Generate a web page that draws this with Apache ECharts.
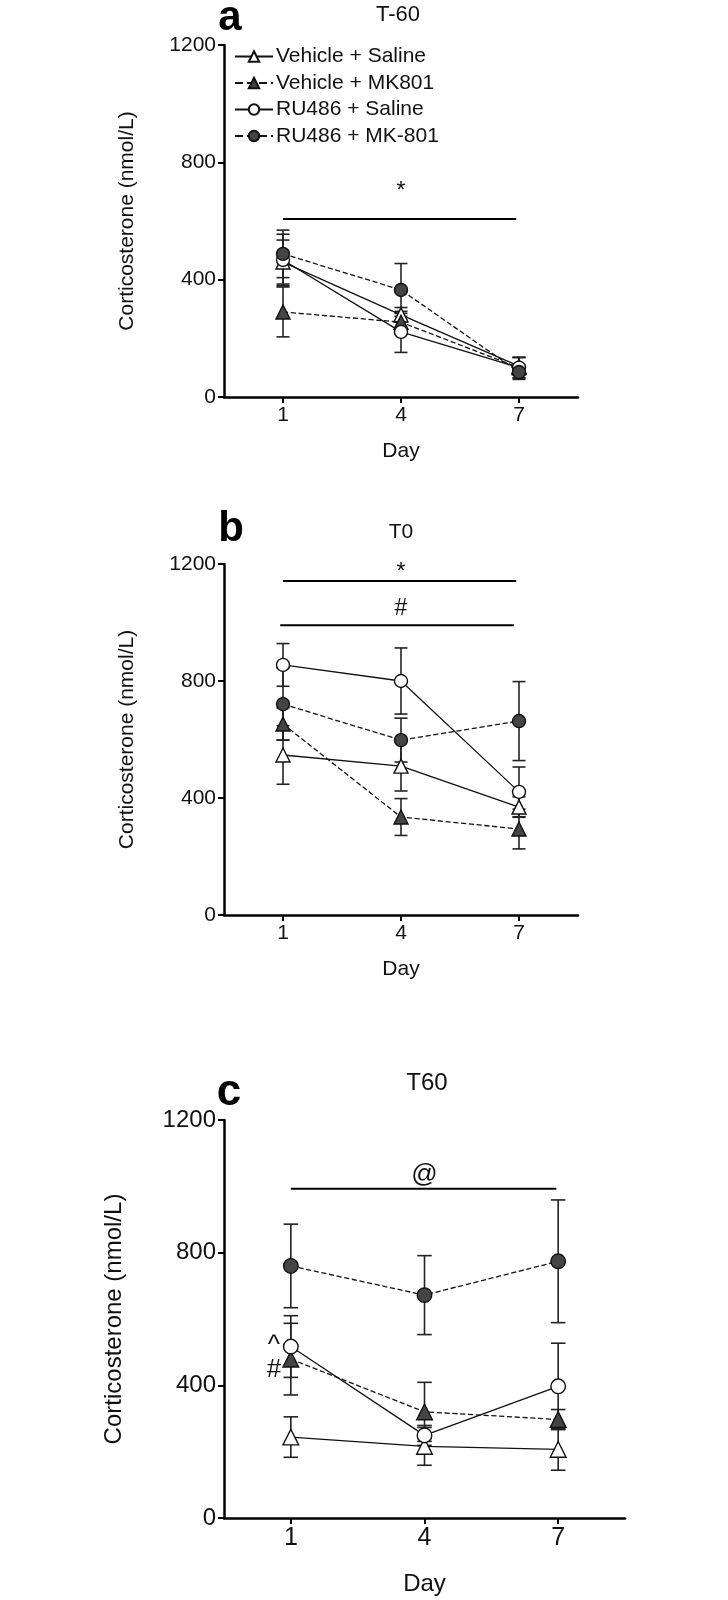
<!DOCTYPE html>
<html>
<head>
<meta charset="utf-8">
<script src="https://cdn.jsdelivr.net/npm/echarts@6/dist/echarts.min.js"></script>
<style>
  html, body { margin: 0; padding: 0; background: #fff; }
  #chart { width: 728px; height: 1600px; }
</style>
</head>
<body>
<div id="chart"></div>
<script>
// ---------- data ----------
const days = [1, 4, 7];
const tickDays = [1, 4, 7];
const yTicks = [0, 400, 800, 1200];
const groups = ['Vehicle + Saline', 'Vehicle + MK801', 'RU486 + Saline', 'RU486 + MK-801'];
const panelTitles = ['T-60', 'T0', 'T60'];
const panelLetters = ['a', 'b', 'c'];

// Panel a (T-60): mean and SEM per group, days 1,4,7
const meanA = [[460, 280, 105], [290, 255, 100], [467, 222, 100], [488, 365, 85]];
const semA  = [[75, 25, 30],   [85, 30, 35],   [88, 70, 35],   [81, 90, 25]];
// Panel b (T0)
const meanB = [[547, 509, 369], [653, 335, 294], [855, 800, 421], [721, 598, 663]];
const semB  = [[100, 85, 35],  [55, 63, 68],   [73, 113, 85],  [123, 75, 135]];
// Panel c (T60)
const meanC = [[244, 216, 207], [479, 320, 297], [517, 249, 397], [760, 672, 774]];
const semC  = [[61, 57, 63],   [108, 89, 30],  [93, 30, 130],  [126, 119, 185]];

// significance bars: [x1, x2, y]
const sigLinesA = [[1, 6.93, 607]];
const sigLinesB = [[1, 6.93, 1142], [0.93, 6.87, 991]];
const sigLinesC = [[1, 6.96, 993]];
// significance labels: [text, x, y]
const sigTextA = [['*', 4, 700]];
const sigTextB = [['*', 4, 1169], ['#', 4, 1046]];
const sigTextC = [['@', 4, 1035], ['^', 0.62, 519], ['#', 0.62, 448]];

// ---------- styles ----------
const FONT = "'Liberation Sans', Arial, sans-serif";
const DARK = '#444444';
const groupStyle = [
  { symbol: 'triangle', fill: '#ffffff', dash: 'solid' },
  { symbol: 'triangle', fill: DARK, dash: 'dashed' },
  { symbol: 'circle', fill: '#ffffff', dash: 'solid' },
  { symbol: 'circle', fill: DARK, dash: 'dashed' }
];

const panels = [
  { means: meanA, sems: semA, lines: sigLinesA, texts: sigTextA,
    grid: { left: 224, top: 45, width: 354, height: 352 }, fs: 21, ms: 1.0, nameGapY: 86, nameGapX: 44 },
  { means: meanB, sems: semB, lines: sigLinesB, texts: sigTextB,
    grid: { left: 224, top: 564, width: 354, height: 351 }, fs: 21, ms: 1.0, nameGapY: 86, nameGapX: 44 },
  { means: meanC, sems: semC, lines: sigLinesC, texts: sigTextC,
    grid: { left: 224, top: 1120, width: 401, height: 398 }, fs: 24, ms: 1.12, nameGapY: 98, nameGapX: 54 }
];

const grids = [], xAxes = [], yAxes = [], series = [];

panels.forEach((p, pi) => {
  grids.push(p.grid);
  xAxes.push({
    type: 'value', gridIndex: pi, min: -0.5, max: 8.5,
    name: 'Day',
    nameLocation: 'middle', nameGap: p.nameGapX,
    nameTextStyle: { fontFamily: FONT, fontSize: p.fs, color: '#111' },
    axisLine: { show: true, onZero: false, lineStyle: { color: '#000', width: 2.5 } },
    axisTick: { show: true, customValues: tickDays, length: 6, lineStyle: { color: '#000', width: 2 } },
    axisLabel: { show: true, customValues: tickDays, fontFamily: FONT, fontSize: p.fs + (pi === 2 ? 1 : 0), color: '#111', margin: 8 },
    splitLine: { show: false }
  });
  yAxes.push({
    type: 'value', gridIndex: pi, min: 0, max: 1200, interval: 400,
    name: 'Corticosterone (nmol/L)', nameLocation: 'middle', nameGap: p.nameGapY,
    nameTextStyle: { fontFamily: FONT, fontSize: p.fs, color: '#111' },
    axisLine: { show: true, onZero: false, lineStyle: { color: '#000', width: 2.5 } },
    axisTick: { show: true, length: 6, lineStyle: { color: '#000', width: 2 } },
    axisLabel: { fontFamily: FONT, fontSize: p.fs, color: '#111', margin: 8,
      formatter: function (v) { return String(v); } },
    splitLine: { show: false }
  });

  const capW = 13 * p.ms;
  // error bars
  p.means.forEach((m, gi) => {
    const data = days.map((d, i) => [d, m[i] - p.sems[gi][i], m[i] + p.sems[gi][i]]);
    series.push({
      type: 'custom', xAxisIndex: pi, yAxisIndex: pi, z: 2, silent: true,
      encode: { x: 0, y: [1, 2] },
      data: data,
      renderItem: function (params, api) {
        const x = api.value(0), lo = api.value(1), hi = api.value(2);
        const a = api.coord([x, hi]), b = api.coord([x, lo]);
        const w = capW / 2;
        const st = { stroke: '#222', lineWidth: 1.6 };
        return { type: 'group', children: [
          { type: 'line', shape: { x1: a[0], y1: a[1], x2: b[0], y2: b[1] }, style: st },
          { type: 'line', shape: { x1: a[0] - w, y1: a[1], x2: a[0] + w, y2: a[1] }, style: st },
          { type: 'line', shape: { x1: b[0] - w, y1: b[1], x2: b[0] + w, y2: b[1] }, style: st }
        ]};
      }
    });
  });
  // lines with markers
  p.means.forEach((m, gi) => {
    const gs = groupStyle[gi];
    series.push({
      name: pi === 0 ? groups[gi] : panelLetters[pi] + ' ' + groups[gi],
      type: 'line', xAxisIndex: pi, yAxisIndex: pi, z: 3 + gi,
      data: days.map((d, i) => [d, m[i]]),
      symbol: gs.symbol,
      symbolSize: (gs.symbol === 'circle' ? 13 : 14) * p.ms,
      lineStyle: { color: '#111', width: 1.3, type: gs.dash },
      itemStyle: { color: gs.fill, borderColor: '#111', borderWidth: 1.4 },
      animation: false
    });
  });
  // significance lines
  series.push({
    type: 'custom', xAxisIndex: pi, yAxisIndex: pi, z: 6, silent: true,
    encode: { x: [0, 1], y: 2 },
    data: p.lines,
    renderItem: function (params, api) {
      const a = api.coord([api.value(0), api.value(2)]);
      const b = api.coord([api.value(1), api.value(2)]);
      return { type: 'line', shape: { x1: a[0], y1: a[1], x2: b[0], y2: b[1] },
        style: { stroke: '#000', lineWidth: 2 } };
    }
  });
  // significance labels
  const texts = p.texts;
  series.push({
    type: 'custom', xAxisIndex: pi, yAxisIndex: pi, z: 6, silent: true,
    encode: { x: 1, y: 2 },
    data: texts.map(t => [0, t[1], t[2]]),
    renderItem: function (params, api) {
      const c = api.coord([api.value(1), api.value(2)]);
      const t = texts[params.dataIndex][0];
      return { type: 'text', x: c[0], y: c[1],
        style: { text: t, fill: '#111', align: 'center', verticalAlign: 'middle',
          font: (p.fs + 2) + 'px ' + FONT } };
    }
  });
});

const option = {
  animation: false,
  backgroundColor: '#ffffff',
  grid: grids,
  xAxis: xAxes,
  yAxis: yAxes,
  series: series,
  legend: {
    data: groups,
    orient: 'vertical',
    left: 229, top: 41,
    itemWidth: 38, itemHeight: 13, itemGap: 5.5,
    textStyle: { fontFamily: FONT, fontSize: 21, color: '#111', lineHeight: 20, padding: [0, 0, 0, -2] },
    selectedMode: false
  },
  graphic: [
    { type: 'text', x: 230, y: 18, style: { text: panelLetters[0], font: 'bold 42px ' + FONT, fill: '#000', align: 'center', verticalAlign: 'middle' } },
    { type: 'text', x: 398, y: 15, style: { text: panelTitles[0], font: '22px ' + FONT, fill: '#111', align: 'center', verticalAlign: 'middle' } },
    { type: 'text', x: 231, y: 529, style: { text: panelLetters[1], font: 'bold 42px ' + FONT, fill: '#000', align: 'center', verticalAlign: 'middle' } },
    { type: 'text', x: 401, y: 532, style: { text: panelTitles[1], font: '21px ' + FONT, fill: '#111', align: 'center', verticalAlign: 'middle' } },
    { type: 'text', x: 229, y: 1093, style: { text: panelLetters[2], font: 'bold 44px ' + FONT, fill: '#000', align: 'center', verticalAlign: 'middle' } },
    { type: 'text', x: 427, y: 1083, style: { text: panelTitles[2], font: '24px ' + FONT, fill: '#111', align: 'center', verticalAlign: 'middle' } }
  ]
};

const chart = echarts.init(document.getElementById('chart'), null, { renderer: 'canvas' });
chart.setOption(option);
</script>
</body>
</html>
